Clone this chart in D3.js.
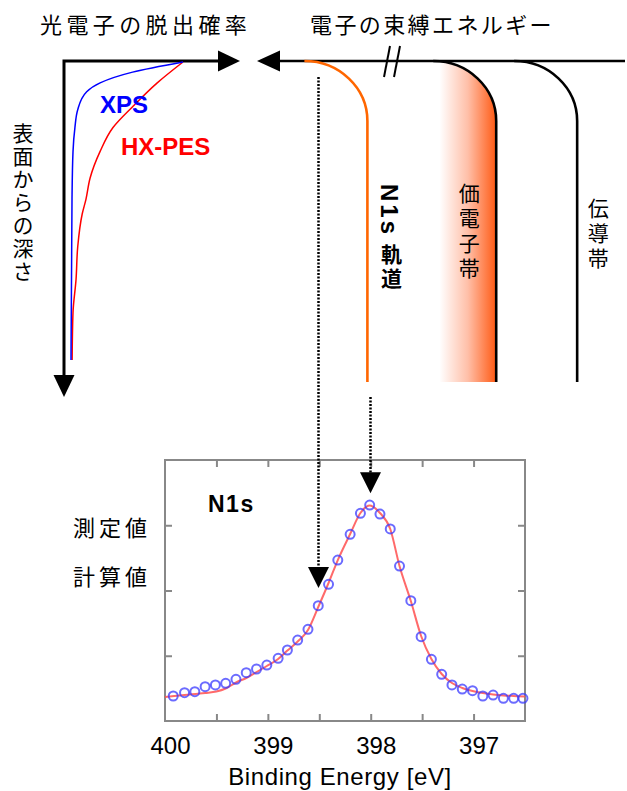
<!DOCTYPE html>
<html>
<head>
<meta charset="utf-8">
<script src="https://cdn.jsdelivr.net/npm/d3@7"></script>
<style>
body { margin: 0; background: #fff; }
text { font-family: "Noto Sans CJK JP", "Noto Sans", sans-serif; fill: #000; }
.lat { font-family: "Liberation Sans", Arial, "Noto Sans CJK JP", sans-serif; }
</style>
</head>
<body>
<svg id="chart" width="627" height="791"></svg>
<script>
// escape probability (0..1) vs depth from surface (0..1)
var xpsProb  = [1, 0.55, 0.26, 0.14, 0.06, 0.035, 0.018, 0.009, 0];
var xpsDepth = [0, 0.034, 0.07, 0.10, 0.16, 0.22, 0.30, 0.46, 1];
var hxProb   = [1, 0.77, 0.55, 0.375, 0.26, 0.17, 0.134, 0.10, 0.06, 0.045, 0.018, 0.01];
var hxDepth  = [0, 0.07, 0.15, 0.22, 0.30, 0.39, 0.46, 0.51, 0.62, 0.73, 0.84, 1];

// schematic binding-energy levels (arbitrary units, larger = deeper)
var bandNames = ["N1s 軌道", "価電子帯", "伝導帯"];
var bandEdge  = [7.0, 3.5, 1.3];

// N1s spectrum: measured points
var energy = [399.92, 399.81, 399.71, 399.61, 399.51, 399.41, 399.31, 399.21, 399.11, 399.01,
              398.90, 398.81, 398.71, 398.61, 398.51, 398.41, 398.32, 398.20, 398.10, 398.01,
              397.91, 397.81, 397.72, 397.61, 397.51, 397.41, 397.31, 397.21, 397.11, 397.01,
              396.91, 396.81, 396.71, 396.61, 396.52];
var measured = [0.383, 0.434, 0.449, 0.526, 0.552, 0.578, 0.639, 0.740, 0.797, 0.858,
                0.961, 1.088, 1.241, 1.405, 1.767, 2.095, 2.467, 2.861, 3.183, 3.310,
                3.172, 2.943, 2.375, 1.844, 1.292, 0.946, 0.716, 0.552, 0.490, 0.464,
                0.383, 0.398, 0.348, 0.348, 0.348];
// calculated curve
var fitEnergy = [400.00, 399.81, 399.61, 399.50, 399.41, 399.30, 399.21, 399.11, 399.01, 398.90,
                 398.81, 398.71, 398.61, 398.51, 398.41, 398.32, 398.20, 398.10, 398.01, 397.91,
                 397.81, 397.72, 397.61, 397.51, 397.41, 397.31, 397.21, 397.11, 397.01, 396.91,
                 396.81, 396.71, 396.61, 396.50];
var fitValue = [0.368, 0.398, 0.429, 0.452, 0.498, 0.598, 0.659, 0.751, 0.843, 0.950,
                1.080, 1.218, 1.395, 1.747, 2.115, 2.467, 2.866, 3.188, 3.303, 3.188,
                2.943, 2.375, 1.839, 1.303, 0.950, 0.720, 0.582, 0.506, 0.460, 0.429,
                0.406, 0.391, 0.383, 0.375];
var xTickLabels = [400, 399, 398, 397];
var xMinorTicks = [399.5, 399, 398.5, 398, 397.5, 397];
var yTicks = [1, 2, 3];
// arrows from the schematic down to the spectrum
var arrowEnergy = [398.5, 398.0];
var arrowTip = [2.04, 3.49];

var svg = d3.select("#chart");

// ---------- top left: escape probability ----------
var px = d3.scaleLinear().domain([0, 1]).range([71, 183]);
var pz = d3.scaleLinear().domain([0, 1]).range([62, 360]);

svg.append("path")
  .attr("d", "M64,376 L64,61 L220,61")
  .attr("fill", "none").attr("stroke", "#000").attr("stroke-width", 3);
svg.append("path").attr("d", "M218,50.5 L240,61 L218,71.5 Z").attr("fill", "#000");
svg.append("path").attr("d", "M53.5,375 L74.5,375 L64,397 Z").attr("fill", "#000");

var depthLine = d3.line()
  .x(function(d) { return px(d[0]); })
  .y(function(d) { return pz(d[1]); })
  .curve(d3.curveMonotoneY);

svg.append("path")
  .attr("d", depthLine(hxProb.map(function(p, i) { return [p, hxDepth[i]]; })))
  .attr("fill", "none").attr("stroke", "#ff0000").attr("stroke-width", 1.5);
svg.append("path")
  .attr("d", depthLine(xpsProb.map(function(p, i) { return [p, xpsDepth[i]]; })))
  .attr("fill", "none").attr("stroke", "#0000ff").attr("stroke-width", 1.5);

svg.append("text").attr("class", "lat").attr("x", 100).attr("y", 113)
  .style("font-size", "24px").style("font-weight", "bold").style("fill", "#0000ff").text("XPS");
svg.append("text").attr("class", "lat").attr("x", 121).attr("y", 155)
  .style("font-size", "24px").style("font-weight", "bold").style("fill", "#ff0000").text("HX-PES");

svg.append("text").attr("x", 40).attr("y", 33)
  .style("font-size", "22px").style("letter-spacing", "4.4px").text("光電子の脱出確率");
svg.append("text").attr("x", 23).attr("y", 123)
  .style("font-size", "21px").style("letter-spacing", "2px")
  .style("writing-mode", "vertical-rl").text("表面からの深さ");

// ---------- top right: binding energy schematic ----------
var sx = d3.scaleLinear().domain([0, 10]).range([625, 257]);
var rx = 63, ry = 60, axisY = 61, bandBottom = 382;

var defs = svg.append("defs");
var grad = defs.append("linearGradient").attr("id", "vb")
  .attr("gradientUnits", "userSpaceOnUse")
  .attr("x1", sx(bandEdge[1]) - rx).attr("x2", sx(bandEdge[1])).attr("y1", 0).attr("y2", 0);
grad.append("stop").attr("offset", "0").attr("stop-color", "#ffffff");
grad.append("stop").attr("offset", "0.1").attr("stop-color", "#ffffff");
grad.append("stop").attr("offset", "0.55").attr("stop-color", "#ffbfa8");
grad.append("stop").attr("offset", "1").attr("stop-color", "#ff5a14");

function bandPath(e) {
  var xe = sx(e);
  return "M" + (xe - rx) + "," + axisY + " A" + rx + "," + ry + " 0 0 1 " + xe + "," + (axisY + ry) +
         " L" + xe + "," + bandBottom;
}

// valence band fill
svg.append("path")
  .attr("d", bandPath(bandEdge[1]) + " L" + (sx(bandEdge[1]) - rx) + "," + bandBottom + " Z")
  .attr("fill", "url(#vb)");

svg.append("line").attr("x1", 625).attr("x2", 278).attr("y1", axisY).attr("y2", axisY)
  .attr("stroke", "#000").attr("stroke-width", 2.5);
svg.append("path").attr("d", "M257,61 L280,50.5 L280,71.5 Z").attr("fill", "#000");
svg.append("line").attr("x1", 384).attr("y1", 77).attr("x2", 390).attr("y2", 46)
  .attr("stroke", "#000").attr("stroke-width", 2);
svg.append("line").attr("x1", 394).attr("y1", 77).attr("x2", 400).attr("y2", 46)
  .attr("stroke", "#000").attr("stroke-width", 2);

var bandColor = ["#ff6600", "#000", "#000"];
svg.selectAll(".band").data(bandEdge).enter().append("path")
  .attr("class", "band")
  .attr("d", function(d) { return bandPath(d); })
  .attr("fill", "none")
  .attr("stroke", function(d, i) { return bandColor[i]; })
  .attr("stroke-width", 2.6);

// N1s orbital label: latin part turned sideways, kanji stacked upright
var n1 = bandNames[0].split(" ");
var n1x = sx(bandEdge[0]);
svg.append("text").attr("class", "lat")
  .attr("transform", "translate(" + (n1x + 14) + ",184) rotate(90)")
  .style("font-size", "24px").style("font-weight", "bold").style("letter-spacing", "3px")
  .text(n1[0]);
svg.append("text")
  .attr("x", n1x + 24).attr("y", 244)
  .style("font-size", "21px").style("font-weight", "bold").style("letter-spacing", "3px")
  .style("writing-mode", "vertical-rl").text(n1[1]);

var labelDx = [0, -27, 21], labelY = [0, 183, 198];
svg.selectAll(".bandlabel").data(bandNames.slice(1)).enter().append("text")
  .attr("class", "bandlabel")
  .attr("x", function(d, i) { return sx(bandEdge[i + 1]) + labelDx[i + 1]; })
  .attr("y", function(d, i) { return labelY[i + 1]; })
  .style("font-size", "21px")
  .style("letter-spacing", "4px")
  .style("writing-mode", "vertical-rl")
  .text(function(d) { return d; });

svg.append("text").attr("x", 310).attr("y", 33)
  .style("font-size", "22px").style("letter-spacing", "2.4px").text("電子の束縛エネルギー");

// ---------- bottom: N1s spectrum ----------
var x = d3.scaleLinear().domain([400, 396.5]).range([165, 525]);
var y = d3.scaleLinear().domain([0, 4]).range([721, 460]);

var g = svg.append("g");
g.append("rect").attr("x", 165).attr("y", 460).attr("width", 360).attr("height", 261)
  .attr("fill", "none").attr("stroke", "#888").attr("stroke-width", 2);

function styleTicks(sel) {
  sel.select(".domain").remove();
  sel.selectAll("line").attr("stroke", "#888").attr("stroke-width", 2);
}
g.append("g").attr("transform", "translate(0,721)")
  .call(d3.axisBottom(x).tickValues(xMinorTicks).tickSize(-7).tickFormat("")).call(styleTicks);
g.append("g").attr("transform", "translate(0,460)")
  .call(d3.axisTop(x).tickValues(xMinorTicks).tickSize(-7).tickFormat("")).call(styleTicks);
g.append("g").attr("transform", "translate(165,0)")
  .call(d3.axisLeft(y).tickValues(yTicks).tickSize(-7).tickFormat("")).call(styleTicks);
g.append("g").attr("transform", "translate(525,0)")
  .call(d3.axisRight(y).tickValues(yTicks).tickSize(-7).tickFormat("")).call(styleTicks);

var xl = g.append("g").attr("transform", "translate(0,721)")
  .call(d3.axisBottom(x).tickValues(xTickLabels).tickSize(0).tickPadding(16).tickFormat(d3.format("d")));
xl.select(".domain").remove();
xl.selectAll("text").attr("class", "lat").attr("dx", 5)
  .style("font-size", "24px").style("fill", "#000");

var fitLine = d3.line()
  .x(function(d) { return x(d[0]); })
  .y(function(d) { return y(d[1]); })
  .curve(d3.curveMonotoneX);
g.append("path")
  .attr("d", fitLine(fitEnergy.map(function(e, i) { return [e, fitValue[i]]; })))
  .attr("fill", "none").attr("stroke", "#ff5050").attr("stroke-opacity", 0.85).attr("stroke-width", 2);

g.selectAll(".pt").data(energy).enter().append("circle")
  .attr("class", "pt")
  .attr("cx", function(d) { return x(d); })
  .attr("cy", function(d, i) { return y(measured[i]); })
  .attr("r", 4.5)
  .attr("fill", "none").attr("stroke", "#3a3aff").attr("stroke-opacity", 0.75).attr("stroke-width", 2);

g.append("text").attr("class", "lat").attr("x", 208).attr("y", 512)
  .style("font-size", "23px").style("font-weight", "bold").style("letter-spacing", "1.5px").text("N1s");
svg.append("text").attr("x", 73).attr("y", 536)
  .style("font-size", "22px").style("letter-spacing", "4px").text("測定値");
svg.append("text").attr("x", 73).attr("y", 585)
  .style("font-size", "22px").style("letter-spacing", "4px").text("計算値");

svg.append("text").attr("class", "lat").attr("x", 340).attr("y", 785)
  .attr("text-anchor", "middle")
  .style("font-size", "24px").style("letter-spacing", "0.6px").text("Binding Energy [eV]");

// dotted arrows
var arrowTop = [77, 397];
arrowEnergy.forEach(function(e, i) {
  var ax = Math.round(x(e)) - 0.5, tip = y(arrowTip[i]);
  svg.append("line").attr("x1", ax).attr("x2", ax).attr("y1", arrowTop[i]).attr("y2", tip - 20)
    .attr("stroke", "#000").attr("stroke-width", 2.5).attr("stroke-dasharray", "2,1.5");
  svg.append("path")
    .attr("d", "M" + (ax - 10.5) + "," + (tip - 21) + " L" + (ax + 10.5) + "," + (tip - 21) + " L" + ax + "," + tip + " Z")
    .attr("fill", "#000");
});
</script>
</body>
</html>
